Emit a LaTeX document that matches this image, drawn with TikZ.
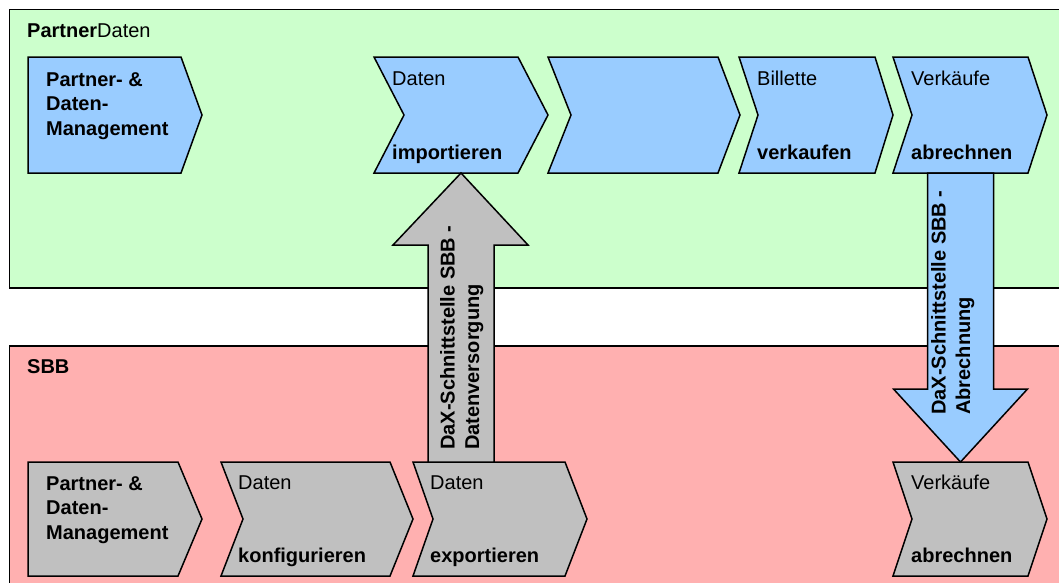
\documentclass[tikz,border=0pt]{standalone}
\usepackage{fontspec}
\setmainfont{Liberation Sans}
\usepackage{tikz}
\usetikzlibrary{calc}
\definecolor{pd_green}{RGB}{204, 255, 204}
\definecolor{sbb_red}{RGB}{255, 176, 176}
\definecolor{proc_blue}{RGB}{153, 204, 255}
\definecolor{proc_grey}{RGB}{192, 192, 192}
\newcommand{\chevfont}{\fontsize{20}{24.5}\selectfont}
\tikzstyle{lane}=[draw=black,line width=1.5pt]
\tikzstyle{proc}=[draw=black,line width=1.5pt,line join=miter]
\tikzstyle{lbl}=[anchor=base west,inner sep=0pt,align=left,font=\chevfont]
\tikzstyle{lblb}=[lbl,font=\chevfont\bfseries]
% chevron: name, fill, left x, notch x, shoulder x, tip x, top y, bottom y
\newcommand{\chev}[8]{%
  \draw[proc,fill=#2] (#3,#7) -- (#5,#7) -- (#6,{(#7+#8)/2}) -- (#5,#8)
    -- (#3,#8) -- (#4,{(#7+#8)/2}) -- cycle;
  \coordinate (#1-nw) at (#3,#7);
  \coordinate (#1-sw) at (#3,#8);
}

\begin{document}
\begin{tikzpicture}[x=1pt,y=-1pt]
        \useasboundingbox (0,0) rectangle (1059,582);
        \clip (0,0) rectangle (1059,582);
        % swim lanes
        \draw[lane,fill=pd_green] (9.5,9.5) rectangle (1080,288);
        \draw[lane,fill=sbb_red] (9.5,346) rectangle (1080,600);
        \node[lbl] (pdLane) at (27,37) {\textbf{Partner}Daten};
        \node[lblb] (sbbLane) at (27,373) {SBB};
        % PartnerDaten processes
        \chev{pdm}{proc_blue}{28}{28}{181}{202}{57}{173}
        \chev{imp}{proc_blue}{374}{404}{518}{548}{57}{173}
        \chev{blank}{proc_blue}{548}{571}{718}{740}{57}{173}
        \chev{bil}{proc_blue}{739}{758}{875}{893}{57}{173}
        \chev{vka}{proc_blue}{893}{912}{1028}{1047}{57}{173}
        \node[lblb] (pdmT) at ($(pdm-nw)+(18,78)$) {Partner- \&\\Daten-\\Management};
        \node[lbl] (impT) at ($(imp-nw)+(18,28)$) {Daten};
        \node[lblb] (impB) at ($(imp-sw)+(18,-14)$) {importieren};
        \node[lbl] (bilT) at ($(bil-nw)+(18,28)$) {Billette};
        \node[lblb] (bilB) at ($(bil-sw)+(18,-14)$) {verkaufen};
        \node[lbl] (vkaT) at ($(vka-nw)+(18,28)$) {Verkäufe};
        \node[lblb] (vkaB) at ($(vka-sw)+(18,-14)$) {abrechnen};
        % SBB processes
        \chev{sbbpdm}{proc_grey}{28}{28}{178}{202}{462}{576}
        \chev{kon}{proc_grey}{221}{243}{390}{413}{462}{576}
        \chev{exp}{proc_grey}{413}{433}{565}{587}{462}{576}
        \chev{vkb}{proc_grey}{893}{912}{1028}{1047}{462}{576}
        \node[lblb] (sbbpdmT) at ($(sbbpdm-nw)+(18,77)$) {Partner- \&\\Daten-\\Management};
        \node[lbl] (konT) at ($(kon-nw)+(17,27)$) {Daten};
        \node[lblb] (konB) at ($(kon-sw)+(17,-14)$) {konfigurieren};
        \node[lbl] (expT) at ($(exp-nw)+(17,27)$) {Daten};
        \node[lblb] (expB) at ($(exp-sw)+(17,-14)$) {exportieren};
        \node[lbl] (vkbT) at ($(vkb-nw)+(18,27)$) {Verkäufe};
        \node[lblb] (vkbB) at ($(vkb-sw)+(18,-14)$) {abrechnen};
        % interfaces
        \coordinate (upTip) at (461,173);
        \coordinate (dnTip) at (960.5,462);
        \draw[proc,fill=proc_grey] (upTip) -- ++(67,72) -- ++(-34,0) -- ++(0,217)
            -- ++(-66,0) -- ++(0,-217) -- ++(-35,0) -- cycle;
        \draw[proc,fill=proc_blue] ($(dnTip)+(-33,-289)$) -- ++(0,216) -- ++(-34,0)
            -- (dnTip) -- ++(67,-73) -- ++(-34,0) -- ++(0,-216) -- cycle;
        \node[lblb,rotate=90] (upLbl) at (479,450) {DaX-Schnittstelle SBB -\\Datenversorgung};
        \node[lblb,rotate=90] (dnLbl) at (970,415) {DaX-Schnittstelle SBB -\\Abrechnung};
\end{tikzpicture}
\end{document}
